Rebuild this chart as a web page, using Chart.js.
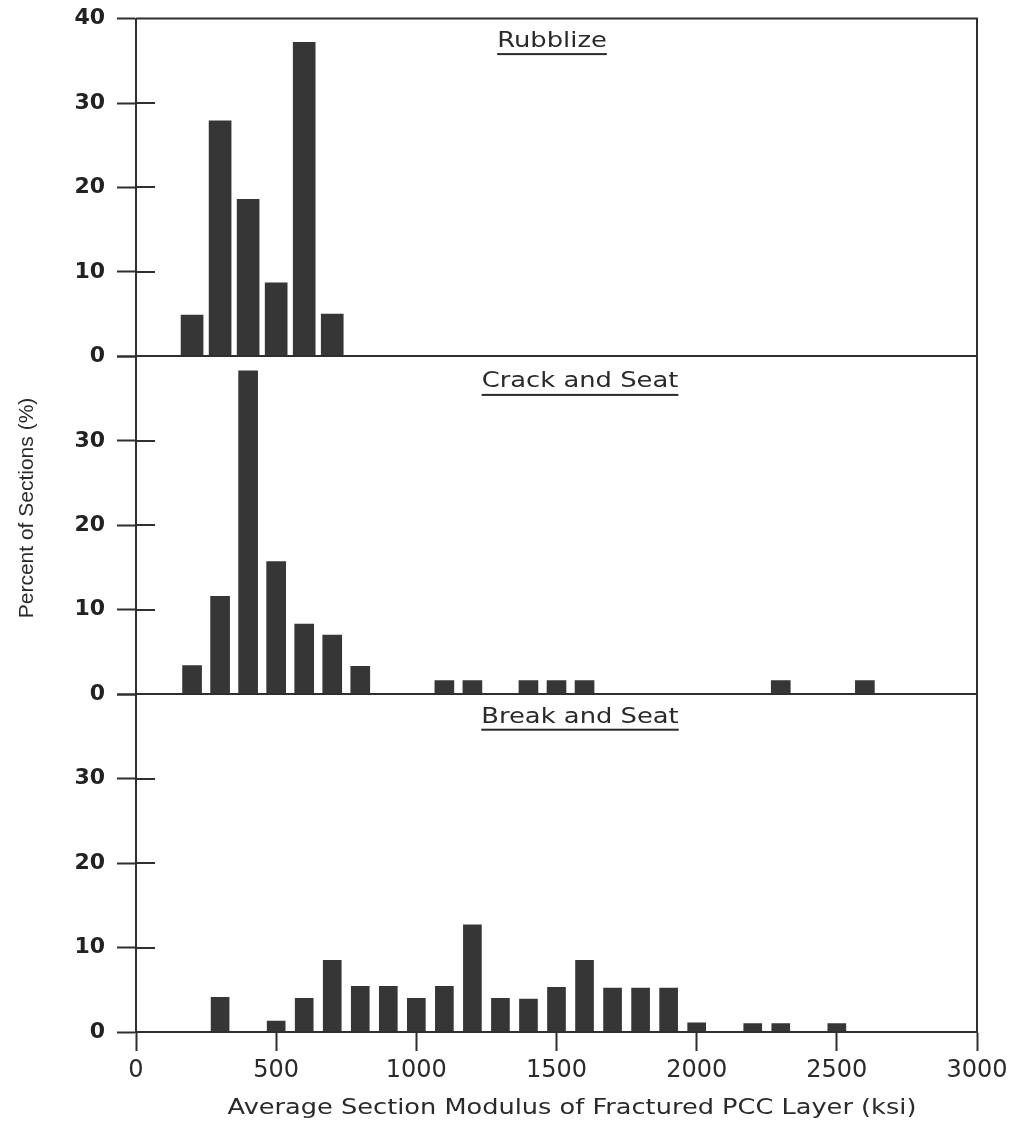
<!DOCTYPE html>
<html>
<head>
<meta charset="utf-8">
<title>Average Section Modulus of Fractured PCC Layer</title>
<script src="https://cdn.jsdelivr.net/npm/chart.js@4/dist/chart.umd.min.js"></script>
<style>
  html, body { margin: 0; padding: 0; background: #ffffff; }
  #wrap { position: relative; width: 1018px; height: 1127px; }
  canvas { display: block; }
</style>
</head>
<body>
<div id="wrap"><canvas id="chart" width="1018" height="1127"></canvas></div>
<script>
// Histogram bins (ksi) and percent of sections, one pair per fracturing method
const rubblizeModulus = [200, 300, 400, 500, 600, 700];
const rubblizePercent = [4.9, 27.9, 18.6, 8.7, 37.2, 5.0];

const crackSeatModulus = [200, 300, 400, 500, 600, 700, 800, 1100, 1200, 1400, 1500, 1600, 2300, 2600];
const crackSeatPercent = [3.4, 11.6, 38.3, 15.7, 8.3, 7.0, 3.3, 1.6, 1.6, 1.6, 1.6, 1.6, 1.6, 1.6];

const breakSeatModulus = [300, 500, 600, 700, 800, 900, 1000, 1100, 1200, 1300, 1400, 1500, 1600, 1700, 1800, 1900, 2000, 2200, 2300, 2500];
const breakSeatPercent = [4.1, 1.3, 4.0, 8.5, 5.4, 5.4, 4.0, 5.4, 12.7, 4.0, 3.9, 5.3, 8.5, 5.2, 5.2, 5.2, 1.1, 1.0, 1.0, 1.0];

const panelTitles = ['Rubblize', 'Crack and Seat', 'Break and Seat'];
const xTickValues = [0, 500, 1000, 1500, 2000, 2500, 3000];
const yTickValues = [0, 10, 20, 30, 40];
const xAxisTitle = 'Average Section Modulus of Fractured PCC Layer (ksi)';
const yAxisTitle = 'Percent of Sections (%)';

const INK = '#2f2f2f';
const BAR = '#363636';

function toPoints(xs, ys) {
  return xs.map((x, i) => ({ x: x, y: ys[i] }));
}

// Panel scale ids, top to bottom, with caption placement
const panels = [
  { id: 'yRubblize', title: panelTitles[0], cx: 552, dy: 28, ul: 6.5 },
  { id: 'yCrack',    title: panelTitles[1], cx: 580, dy: 31, ul: 6.5 },
  { id: 'yBreak',    title: panelTitles[2], cx: 580, dy: 29, ul: 5.5 }
];

function yScale(showTop) {
  return {
    type: 'linear',
    position: 'left',
    stack: 'panels',
    stackWeight: 1,
    min: 0,
    max: 40,
    afterBuildTicks: (s) => { s.ticks = yTickValues.map(v => ({ value: v })); },
    afterFit: (s) => { s.width = 136; },
    border: { display: true, color: INK, width: 2 },
    grid: { display: true, drawOnChartArea: false, drawTicks: true, tickLength: 19, tickColor: INK, tickWidth: 2 },
    ticks: {
      padding: 12,
      color: '#222',
      font: { family: '"DejaVu Sans", sans-serif', size: 22, weight: 'bold', lineHeight: 0.6 },
      callback: (v) => (!showTop && v === 40) ? '' : String(v)
    }
  };
}

// Frame, inner tick marks, panel captions and axis titles
const decorations = {
  id: 'decorations',
  afterDatasetsDraw(chart) {
    const ctx = chart.ctx;
    const a = chart.chartArea;
    ctx.save();
    ctx.strokeStyle = INK;
    ctx.lineWidth = 2;
    ctx.lineCap = 'butt';

    ctx.beginPath();
    ctx.moveTo(a.left, a.top); ctx.lineTo(a.right, a.top);
    ctx.moveTo(a.right, a.top - 1); ctx.lineTo(a.right, a.bottom + 1);
    panels.forEach(p => {
      const s = chart.scales[p.id];
      const y0 = Math.round(s.getPixelForValue(0));
      ctx.moveTo(a.left, y0); ctx.lineTo(a.right, y0);
      yTickValues.forEach(v => {
        if (v === 0 || v === 40) return;
        const y = Math.round(s.getPixelForValue(v));
        ctx.moveTo(a.left, y); ctx.lineTo(a.left + 19, y);
      });
    });
    ctx.stroke();

    // panel captions, underlined
    ctx.fillStyle = '#2a2a2a';
    ctx.textBaseline = 'alphabetic';
    ctx.textAlign = 'center';
    ctx.font = '21.5px "DejaVu Sans", sans-serif';
    const stretch = 1.2;
    panels.forEach(p => {
      const s = chart.scales[p.id];
      const base = s.top + p.dy;
      const w = ctx.measureText(p.title).width * stretch;
      ctx.save();
      ctx.translate(p.cx, base);
      ctx.scale(stretch, 1);
      ctx.fillText(p.title, 0, 0);
      ctx.restore();
      ctx.fillRect(p.cx - w / 2, base + p.ul, w, 2);
    });

    // x axis title
    ctx.font = '22px "DejaVu Sans", sans-serif';
    ctx.save();
    ctx.translate(572, 1114);
    ctx.scale(1.165, 1);
    ctx.fillText(xAxisTitle, 0, 0);
    ctx.restore();

    // y axis title
    ctx.font = '21px "Liberation Sans", Arial, sans-serif';
    ctx.textBaseline = 'middle';
    ctx.save();
    ctx.translate(27, 508);
    ctx.rotate(-Math.PI / 2);
    ctx.fillText(yAxisTitle, 0, 0);
    ctx.restore();

    ctx.restore();
  }
};

new Chart(document.getElementById('chart'), {
  type: 'bar',
  data: {
    datasets: [
      { label: panelTitles[0], data: toPoints(rubblizeModulus, rubblizePercent), yAxisID: 'yRubblize',
        barThickness: 22, backgroundColor: BAR, borderWidth: 0 },
      { label: panelTitles[1], data: toPoints(crackSeatModulus, crackSeatPercent), yAxisID: 'yCrack',
        barThickness: 19, backgroundColor: BAR, borderWidth: 0 },
      { label: panelTitles[2], data: toPoints(breakSeatModulus, breakSeatPercent), yAxisID: 'yBreak',
        barThickness: 18, backgroundColor: BAR, borderWidth: 0 }
    ]
  },
  options: {
    responsive: false,
    animation: false,
    devicePixelRatio: 1,
    layout: { padding: { top: 8, right: 41, left: 0, bottom: 0 } },
    datasets: {
      bar: { grouped: false }
    },
    plugins: {
      colors: { enabled: false },
      legend: { display: false },
      tooltip: { enabled: false },
      title: { display: false }
    },
    scales: {
      x: {
        type: 'linear',
        position: 'bottom',
        offset: false,
        min: 0,
        max: 3000,
        afterBuildTicks: (s) => { s.ticks = xTickValues.map(v => ({ value: v })); },
        afterFit: (s) => { s.height = 95; },
        border: { display: true, color: INK, width: 2 },
        grid: { display: true, offset: false, drawOnChartArea: false, drawTicks: true, tickLength: 19, tickColor: INK, tickWidth: 2 },
        ticks: {
          padding: 5,
          color: '#2a2a2a',
          maxRotation: 0,
          font: { family: '"DejaVu Sans", sans-serif', size: 24 },
          callback: (v) => String(v)
        }
      },
      // stacked panels are laid out bottom-up in definition order
      yBreak: yScale(false),
      yCrack: yScale(false),
      yRubblize: yScale(true)
    }
  },
  plugins: [decorations]
});
</script>
</body>
</html>
